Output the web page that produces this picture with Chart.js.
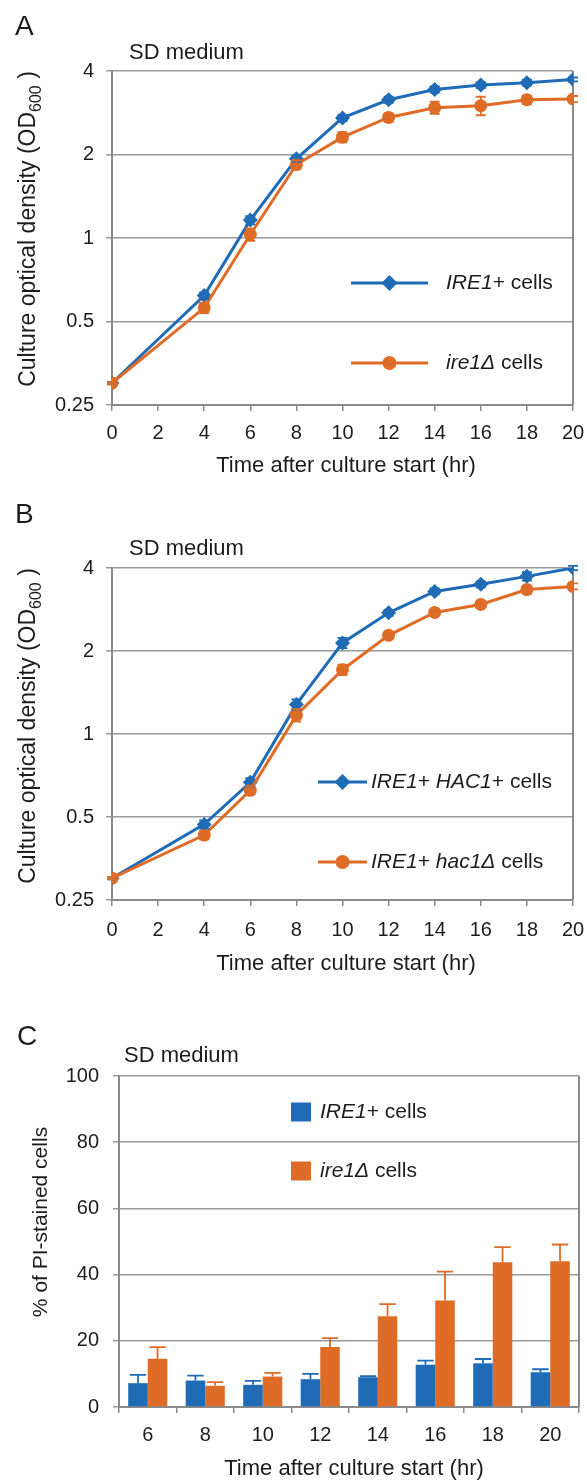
<!DOCTYPE html>
<html><head><meta charset="utf-8">
<script src="https://cdn.jsdelivr.net/npm/chart.js@4.4.1/dist/chart.umd.min.js"></script>
<style>
html,body{margin:0;padding:0;background:#fff;}
body{width:587px;height:1481px;position:relative;overflow:hidden;}
.wrap{position:absolute;left:0;width:587px;}
</style></head><body>
<div class="wrap" style="top:0;height:490px"><canvas id="cA"></canvas></div>
<div class="wrap" style="top:490px;height:500px"><canvas id="cB"></canvas></div>
<div class="wrap" style="top:990px;height:491px"><canvas id="cC"></canvas></div>
<script>
// ---------- data ----------
const hoursAB = [0, 4, 6, 8, 10, 12, 14, 16, 18, 20];
const xTicksAB = [0, 2, 4, 6, 8, 10, 12, 14, 16, 18, 20];
const logTicks = [0.25, 0.5, 1, 2, 4];
const logTickLabels = ['0.25', '0.5', '1', '2', '4'];

// Panel A
const odA_IRE1      = [0.30, 0.62, 1.16, 1.93, 2.71, 3.15, 3.43, 3.56, 3.63, 3.73];
const odA_IRE1_err  = [0.003, 0.016, 0.04, 0.05, 0.07, 0.08, 0.09, 0.09, 0.09, 0.06];
const odA_ire1d     = [0.30, 0.56, 1.03, 1.84, 2.31, 2.72, 2.95, 3.00, 3.15, 3.17];
const odA_ire1d_err = [0.003, 0.024, 0.053, 0.063, 0.098, 0.092, 0.15, 0.23, 0.11, 0.08];

// Panel B
const odB_HAC1      = [0.30, 0.47, 0.668, 1.28, 2.14, 2.75, 3.29, 3.49, 3.73, 4.0];
const odB_HAC1_err  = [0.003, 0.016, 0.023, 0.055, 0.09, 0.07, 0.08, 0.09, 0.13, 0.07];
const odB_hac1d     = [0.30, 0.43, 0.625, 1.17, 1.71, 2.28, 2.76, 2.95, 3.34, 3.43];
const odB_hac1d_err = [0.003, 0.015, 0.021, 0.06, 0.073, 0.057, 0.07, 0.074, 0.11, 0.086];

// Panel C
const hoursC = ['6', '8', '10', '12', '14', '16', '18', '20'];
const piIRE1     = [7.2, 8.0, 6.7, 8.4, 9.0, 12.8, 13.2, 10.5];
const piIRE1Err  = [2.5, 1.5, 1.2, 1.6, 0.3, 1.2, 1.3, 0.9];
const piIre1d    = [14.6, 6.4, 9.2, 18.1, 27.4, 32.2, 43.7, 44.0];
const piIre1dErr = [3.5, 1.1, 1.1, 2.7, 3.7, 8.7, 4.6, 5.1];
const yTicksC = [0, 20, 40, 60, 80, 100];

// ---------- style ----------
const FF = '"Liberation Sans", Arial, Helvetica, sans-serif';
const BLUE = '#1f6bb6';
const ORANGE = '#de6c26';
const TXT = '#1c1c1c';
const GRID = '#999999';
const AXIS = '#8a8a8a';
Chart.defaults.font.family = FF;
Chart.defaults.color = TXT;

function segText(ctx, x, y, segs, size) {
  ctx.textBaseline = 'middle';
  ctx.textAlign = 'left';
  ctx.fillStyle = TXT;
  segs.forEach(s => {
    ctx.font = (s.i ? 'italic ' : '') + size + 'px ' + FF;
    ctx.fillText(s.t, x, y);
    x += ctx.measureText(s.t).width;
  });
}
function yTitle(ctx, cx, cy, parts) {
  ctx.save();
  ctx.translate(cx, cy);
  ctx.rotate(-Math.PI / 2);
  let total = 0;
  parts.forEach(p => { ctx.font = p.size + 'px ' + FF; p.w = ctx.measureText(p.t).width; total += p.w; });
  let x = -total / 2;
  ctx.textBaseline = 'middle';
  ctx.textAlign = 'left';
  ctx.fillStyle = TXT;
  parts.forEach(p => { ctx.font = p.size + 'px ' + FF; ctx.fillText(p.t, x, p.dy || 0); x += p.w; });
  ctx.restore();
}
function diamond(ctx, x, y, r, c) {
  ctx.beginPath(); ctx.moveTo(x - r, y); ctx.lineTo(x, y - r); ctx.lineTo(x + r, y); ctx.lineTo(x, y + r);
  ctx.closePath(); ctx.fillStyle = c; ctx.fill();
}
function circle(ctx, x, y, r, c) {
  ctx.beginPath(); ctx.arc(x, y, r, 0, Math.PI * 2); ctx.fillStyle = c; ctx.fill();
}

const decoPlugin = {
  id: 'deco',
  beforeDatasetsDraw(chart) {
    const a = chart.chartArea, ctx = chart.ctx;
    ctx.save();
    ctx.strokeStyle = AXIS; ctx.lineWidth = 2;
    ctx.beginPath(); ctx.moveTo(a.right, a.top); ctx.lineTo(a.right, a.bottom); ctx.stroke();
    ctx.restore();
  },
  afterDatasetsDraw(chart) {
    const ctx = chart.ctx;
    const ys = chart.scales.y;
    chart.data.datasets.forEach((ds, di) => {
      if (!ds.errors) return;
      const meta = chart.getDatasetMeta(di);
      ctx.save();
      ctx.strokeStyle = ds.borderColor;
      ctx.lineWidth = 1.8;
      meta.data.forEach((el, i) => {
        const e = ds.errors[i];
        const raw = ds.data[i];
        const v = (typeof raw === 'object') ? raw.y : raw;
        const x = el.x;
        const yt = ys.getPixelForValue(v + e);
        let yb, cap;
        if (ds.upOnly) { yb = el.y; cap = el.width * 0.42; }
        else { yb = ys.getPixelForValue(v - e); cap = 5; }
        ctx.beginPath();
        ctx.moveTo(x, yt); ctx.lineTo(x, yb);
        ctx.moveTo(x - cap, yt); ctx.lineTo(x + cap, yt);
        if (!ds.upOnly) { ctx.moveTo(x - cap, yb); ctx.lineTo(x + cap, yb); }
        ctx.stroke();
      });
      ctx.restore();
    });
  },
  afterDraw(chart, args, o) {
    const ctx = chart.ctx;
    ctx.save();
    ctx.fillStyle = TXT; ctx.textBaseline = 'alphabetic'; ctx.textAlign = 'left';
    ctx.font = '28px ' + FF;
    ctx.fillText(o.letter, o.letterX, o.letterY);
    ctx.font = '22px ' + FF; ctx.textBaseline = 'middle';
    ctx.fillText('SD medium', o.sdX, o.sdY);
    ctx.textAlign = 'center';
    ctx.fillText('Time after culture start (hr)', o.xtX, o.xtY);
    yTitle(ctx, o.ytX, o.ytY, o.ytParts);
    o.legend.forEach(L => {
      if (L.kind === 'line') {
        ctx.strokeStyle = L.color; ctx.lineWidth = 3;
        ctx.beginPath(); ctx.moveTo(L.x1, L.y); ctx.lineTo(L.x2, L.y); ctx.stroke();
        if (L.marker === 'diamond') diamond(ctx, (L.x1 + L.x2) / 2, L.y, 8, L.color);
        else circle(ctx, (L.x1 + L.x2) / 2, L.y, 7, L.color);
      } else {
        ctx.fillStyle = L.color;
        ctx.fillRect(L.x1, L.y - 9.5, 20, 19);
      }
      segText(ctx, L.tx, L.y, L.segs, L.size || 21);
    });
    ctx.restore();
  }
};

function lineDs(label, xs, ys, errs, color, style, radius, order) {
  return {
    label, data: xs.map((x, i) => ({ x, y: ys[i] })), errors: errs,
    borderColor: color, backgroundColor: color, borderWidth: 3,
    pointStyle: style, pointRadius: radius, pointBorderWidth: 0,
    pointBackgroundColor: color, pointBorderColor: color, tension: 0, order
  };
}

function xFit(s) { s.height = 60; s.paddingLeft = 0; s.paddingRight = 0; }

function lineOptions(deco, padTop, padBottom, tickPad) {
  return {
    responsive: true, maintainAspectRatio: false, animation: false,
    layout: { padding: { left: 0, right: 14, top: padTop, bottom: padBottom } },
    plugins: { legend: { display: false }, tooltip: { enabled: false }, deco },
    scales: {
      x: {
        type: 'linear', min: 0, max: 20,
        afterBuildTicks: s => { s.ticks = xTicksAB.map(v => ({ value: v })); },
        afterFit: xFit,
        ticks: { font: { size: 20 }, color: TXT, padding: tickPad, maxRotation: 0, autoSkip: false },
        grid: { drawOnChartArea: false, drawTicks: true, tickLength: 6, color: AXIS, lineWidth: 1.5 },
        border: { display: true, color: AXIS, width: 2 }
      },
      y: {
        type: 'logarithmic', min: 0.25, max: 4,
        afterBuildTicks: s => { s.ticks = logTicks.map(v => ({ value: v })); },
        afterFit: s => { s.width = 112; },
        ticks: {
          font: { size: 20 }, color: TXT, padding: 12, autoSkip: false,
          callback: v => { const k = logTicks.indexOf(v); return k >= 0 ? logTickLabels[k] : ''; }
        },
        grid: { color: GRID, lineWidth: 1.5, tickLength: 6, drawTicks: true },
        border: { display: true, color: AXIS, width: 2 }
      }
    }
  };
}

const odParts = [
  { t: 'Culture optical density (OD', size: 23 },
  { t: '600', size: 16, dy: 8 },
  { t: ' )', size: 23 }
];

// Panel A
new Chart(document.getElementById('cA'), {
  type: 'line',
  data: { datasets: [
    lineDs('IRE1+ cells', hoursAB, odA_IRE1, odA_IRE1_err, BLUE, 'rectRot', 7.5, 2),
    lineDs('ire1Δ cells', hoursAB, odA_ire1d, odA_ire1d_err, ORANGE, 'circle', 6.5, 1)
  ] },
  options: lineOptions({
    letter: 'A', letterX: 15, letterY: 35, sdX: 129, sdY: 53,
    xtX: 346, xtY: 466, ytX: 29, ytY: 229, ytParts: odParts,
    legend: [
      { kind: 'line', color: BLUE, marker: 'diamond', x1: 351, x2: 428, y: 283, tx: 446,
        segs: [{ t: 'IRE1', i: true }, { t: '+ cells' }] },
      { kind: 'line', color: ORANGE, marker: 'circle', x1: 351, x2: 428, y: 363, tx: 446,
        segs: [{ t: 'ire1Δ', i: true }, { t: ' cells' }] }
    ]
  }, 71, 25, 10),
  plugins: [decoPlugin]
});

// Panel B
new Chart(document.getElementById('cB'), {
  type: 'line',
  data: { datasets: [
    lineDs('IRE1+ HAC1+ cells', hoursAB, odB_HAC1, odB_HAC1_err, BLUE, 'rectRot', 7.5, 2),
    lineDs('IRE1+ hac1Δ cells', hoursAB, odB_hac1d, odB_hac1d_err, ORANGE, 'circle', 6.5, 1)
  ] },
  options: lineOptions({
    letter: 'B', letterX: 15, letterY: 33, sdX: 129, sdY: 59,
    xtX: 346, xtY: 474, ytX: 29, ytY: 236, ytParts: odParts,
    legend: [
      { kind: 'line', color: BLUE, marker: 'diamond', x1: 318, x2: 367, y: 292, tx: 371,
        segs: [{ t: 'IRE1', i: true }, { t: '+ ' }, { t: 'HAC1', i: true }, { t: '+ cells' }] },
      { kind: 'line', color: ORANGE, marker: 'circle', x1: 318, x2: 367, y: 372, tx: 371,
        segs: [{ t: 'IRE1', i: true }, { t: '+ ' }, { t: 'hac1Δ', i: true }, { t: ' cells' }] }
    ]
  }, 78, 30, 12),
  plugins: [decoPlugin]
});

// Panel C
new Chart(document.getElementById('cC'), {
  type: 'bar',
  data: {
    labels: hoursC,
    datasets: [
      { label: 'IRE1+ cells', data: piIRE1, errors: piIRE1Err, upOnly: true, backgroundColor: BLUE, borderColor: BLUE,
        borderWidth: 0, barPercentage: 1.0, categoryPercentage: 0.68 },
      { label: 'ire1Δ cells', data: piIre1d, errors: piIre1dErr, upOnly: true, backgroundColor: ORANGE, borderColor: ORANGE,
        borderWidth: 0, barPercentage: 1.0, categoryPercentage: 0.68 }
    ]
  },
  options: {
    responsive: true, maintainAspectRatio: false, animation: false,
    layout: { padding: { left: 0, right: 8, top: 86, bottom: 14 } },
    plugins: {
      legend: { display: false }, tooltip: { enabled: false },
      deco: {
        letter: 'C', letterX: 17, letterY: 55, sdX: 124, sdY: 66,
        xtX: 354, xtY: 479, ytX: 41, ytY: 232,
        ytParts: [{ t: '% of PI-stained cells', size: 21 }],
        legend: [
          { kind: 'box', color: BLUE, x1: 291, y: 122, tx: 320, segs: [{ t: 'IRE1', i: true }, { t: '+ cells' }] },
          { kind: 'box', color: ORANGE, x1: 291, y: 181, tx: 320, segs: [{ t: 'ire1Δ', i: true }, { t: ' cells' }] }
        ]
      }
    },
    scales: {
      x: {
        afterFit: xFit,
        ticks: { font: { size: 20 }, color: TXT, padding: 10, maxRotation: 0, autoSkip: false },
        grid: { offset: true, drawOnChartArea: false, drawTicks: true, tickLength: 6, color: AXIS, lineWidth: 1.5 },
        border: { display: true, color: AXIS, width: 2 }
      },
      y: {
        min: 0, max: 100,
        afterBuildTicks: s => { s.ticks = yTicksC.map(v => ({ value: v })); },
        afterFit: s => { s.width = 119; },
        ticks: { font: { size: 20 }, color: TXT, padding: 14, autoSkip: false },
        grid: { color: GRID, lineWidth: 1.5, tickLength: 6, drawTicks: true },
        border: { display: true, color: AXIS, width: 2 }
      }
    }
  },
  plugins: [decoPlugin]
});
</script>
</body></html>
